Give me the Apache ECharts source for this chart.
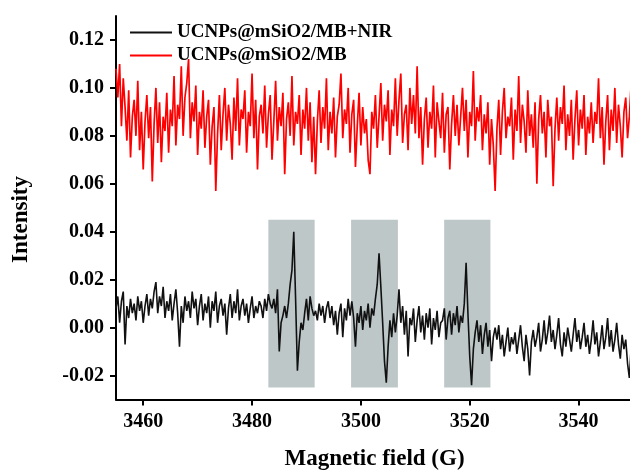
<!DOCTYPE html>
<html>
<head>
<meta charset="utf-8">
<script src="https://cdn.jsdelivr.net/npm/echarts@6/dist/echarts.min.js"></script>
<style>
  html, body { margin: 0; padding: 0; background: #fff; }
  #chart { width: 630px; height: 470px; }
</style>
</head>
<body>
<div id="chart"></div>
<script>
// EPR sweep: evenly sampled field from FIELD_START to FIELD_END (G)
const FIELD_START = 3455;
const FIELD_END = 3550;

const xTicks = [3460, 3480, 3500, 3520, 3540];
const yTicks = [-0.02, 0, 0.02, 0.04, 0.06, 0.08, 0.10, 0.12];

const seriesNames = ['UCNPs@mSiO2/MB+NIR', 'UCNPs@mSiO2/MB'];

// Intensities in units of 1e-3
const intensityNIR = [
  8, 13, 2, 11, 15, -7, 9, 4, 12, 6,
  10, 3, 13, 7, 11, 2, 9, 14, 5, 12,
  8, 15, 19, 6, 13, 9, 17, 4, 11, 7,
  14, 3, 10, 16, 6, -8, 9, 2, 13, 7,
  11, 4, 15, 8, 12, 1, 9, 14, 3, 10,
  6, 13, 0, 11, 7, 15, 2, 9, 12, 5,
  10, -3, 8, 14, 4, 11, 6, 16, 3, 9,
  12, 5, 10, 2, 8, 13, 4, 9, 6, 11,
  9, 4, 12, 7, 14, 10, 8, 12, 6, 16,
  -10, 2, 5, 9, 4, 10, 18, 24, 40, 12,
  -18, -6, 2, -1, 6, 12, 3, 13, 8, 5,
  7, 3, 10, 5, 9, 2, 8, 11, 4, 9,
  1, 7, -3, 6, 10, -4, 8, 3, 12, 5,
  11, 4, -8, 6, 2, 9, -1, 7, 3, 10,
  0, 8, 5, 12, 18, 31, 17, 2, -14, -23,
  -8, 3, -4, 6, -2, 5, 16, 2, 9, -3,
  7, -12, 4, 1, 8, -6, 3, 9, -2, 5,
  -5, 6, 0, 8, -7, 4, -1, 7, -4, 2,
  3, 8, -5, 4, 7, -3, 6, 1, 9, -2,
  5, 2, 10, 27, 6, -12, -24, -9, -2, 3,
  -6, 1, -11, -3, 2, -8, -1, -14, -4, 0,
  -5, 1, -9, -3, -12, -6, 0, -10, -4, -7,
  -2, -11, -5, 1, -8, -14, -3, -9, -20, -6,
  -1, -8, -4, 2, -10, -5, 3, -7, -2, 5,
  -6, -1, -9, -3, 4, -7, -12, -2, -8, 0,
  -5, -10, -3, 4, -6, -1, -9, -4, 2, -8,
  -3, -11, -5, 3, -7, -2, -12, -6, 1, -9,
  -4, 4, -8, -1, -10, -5, 2, -7, -13, -3,
  -9, -5, -15, -21, -8, -12
];

const intensityMB = [
  108, 96, 110, 84, 104, 92, 78, 99, 71, 88,
  95, 80, 103, 74, 90, 66, 86, 97, 79, 92,
  61, 85, 100, 77, 94, 69, 88, 82, 98, 73,
  91, 84, 105, 76, 93, 87, 109, 80, 96, 102,
  112, 79, 94, 86, 101, 72, 90, 83, 99, 75,
  88, 95, 68, 84, 92, 57, 81, 97, 74, 89,
  100, 78, 93, 85, 70, 96, 82, 104, 76, 91,
  87, 99, 73, 90, 84, 106, 79, 95, 66, 88,
  93, 81, 101, 75, 89, 97, 70, 86, 103, 78,
  92, 84, 98, 64, 87, 94, 80, 105, 76, 90,
  85, 97, 72, 91, 83, 100, 78, 94, 69, 88,
  64, 86, 99, 77, 92, 83, 104, 74, 90, 81,
  96, 71, 88, 93, 106, 79, 91, 85, 100, 73,
  89, 95, 67, 84, 98, 76, 92, 81, 87, 70,
  64, 90, 83, 97, 75, 88, 102, 78, 93, 86,
  99, 72, 91, 84, 104, 80, 95, 106, 77, 89,
  93, 74, 100, 85, 97, 81, 109, 79, 92, 68,
  87, 96, 75, 90, 83, 101, 71, 94, 86, 79,
  98, 73, 89, 92, 66, 85, 97, 80, 93, 76,
  88, 100, 82, 95, 71, 90, 84, 107, 78, 92,
  86, 97, 74, 89, 81, 94, 68, 87, 76, 57,
  83, 95, 72, 90, 100, 79, 88, 84, 96, 70,
  91, 82, 105, 77, 93, 86, 73, 99, 80, 89,
  75, 94, 60, 87, 97, 81, 90, 71, 95, 84,
  88, 59, 83, 96, 78, 92, 85, 101, 74, 89,
  80, 95, 70, 87, 99, 76, 91, 83, 97, 72,
  88, 81, 94, 77, 90, 85, 104, 79, 92, 68,
  86, 97, 74, 91, 82, 100, 77, 93, 84, 71,
  90, 96, 79, 88, 102, 83
];

// Shaded field windows around the three spin-adduct lines
const highlightBands = [[3483, 3491.5], [3498.2, 3506.8], [3515.3, 3523.8]];
const bandIntensity = [-0.025, 0.045];

const SCALE = 1e-3;
function toPairs(values) {
  const step = (FIELD_END - FIELD_START) / (values.length - 1);
  return values.map((v, i) => [FIELD_START + i * step, v * SCALE]);
}

const FONT = '"Liberation Serif", "Times New Roman", serif';
const chart = echarts.init(document.getElementById('chart'), null, { renderer: 'canvas' });

chart.setOption({
  animation: false,
  backgroundColor: '#ffffff',
  grid: {
    left: 116, top: 16, width: 517, height: 383.5,
    containLabel: false, outerBoundsMode: 'none'
  },
  legend: {
    data: [seriesNames[0], seriesNames[1]],
    orient: 'vertical',
    left: 125,
    top: 18,
    icon: 'rect',
    itemWidth: 42,
    itemHeight: 2,
    itemGap: 4,
    textStyle: { fontFamily: FONT, fontWeight: 'bold', fontSize: 19, color: '#000' }
  },
  xAxis: {
    type: 'value',
    min: FIELD_START,
    max: FIELD_END,
    name: 'Magnetic field (G)',
    nameLocation: 'middle',
    nameGap: 48,
    nameTextStyle: { fontFamily: FONT, fontWeight: 'bold', fontSize: 23, color: '#000' },
    axisLine: { show: true, onZero: false, lineStyle: { color: '#000', width: 2 } },
    axisTick: { show: true, inside: false, length: 6, customValues: xTicks, lineStyle: { color: '#000', width: 2 } },
    axisLabel: {
      customValues: xTicks, margin: 12,
      formatter: v => String(v),
      fontFamily: FONT, fontWeight: 'bold', fontSize: 20, color: '#000'
    },
    splitLine: { show: false }
  },
  yAxis: {
    type: 'value',
    min: -0.03,
    max: 0.13,
    axisLine: { show: true, onZero: false, lineStyle: { color: '#000', width: 2 } },
    axisTick: { show: true, inside: false, length: 6, customValues: yTicks, lineStyle: { color: '#000', width: 2 } },
    axisLabel: {
      customValues: yTicks, margin: 12,
      formatter: v => v.toFixed(2),
      fontFamily: FONT, fontWeight: 'bold', fontSize: 20, color: '#000'
    },
    splitLine: { show: false }
  },
  graphic: [{
    type: 'text',
    left: 10, top: 176,
    rotation: Math.PI / 2,
    style: { text: 'Intensity', font: 'bold 23px ' + FONT, fill: '#000' }
  }],
  series: [
    {
      name: seriesNames[1],
      type: 'line',
      data: toPairs(intensityMB),
      symbol: 'none',
      lineStyle: { color: '#ff0000', width: 1.7 },
      itemStyle: { color: '#ff0000' },
      z: 3
    },
    {
      name: seriesNames[0],
      type: 'line',
      data: toPairs(intensityNIR),
      symbol: 'none',
      lineStyle: { color: '#111111', width: 1.6 },
      itemStyle: { color: '#111111' },
      z: 4,
      markArea: {
        silent: true,
        itemStyle: { color: '#bdc7c8', opacity: 1 },
        data: highlightBands.map(b => [
          { xAxis: b[0], yAxis: bandIntensity[0] },
          { xAxis: b[1], yAxis: bandIntensity[1] }
        ])
      }
    }
  ]
});
</script>
</body>
</html>
